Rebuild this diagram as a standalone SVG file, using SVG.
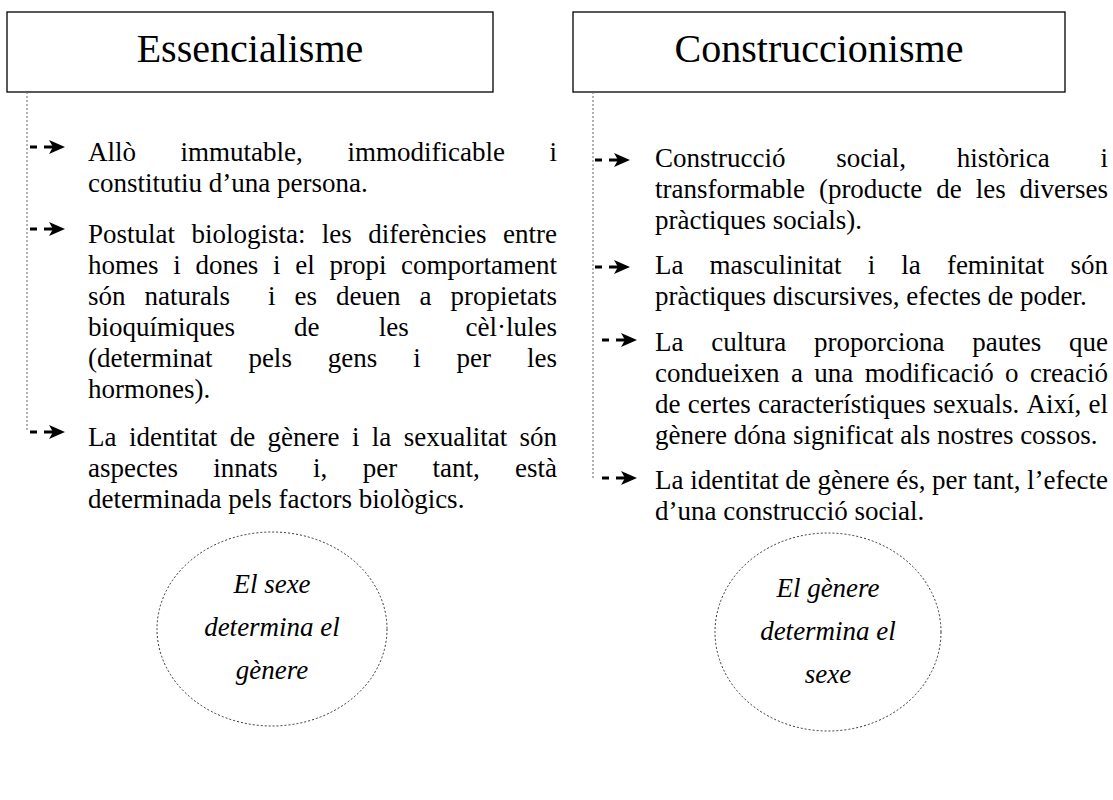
<svg xmlns="http://www.w3.org/2000/svg" width="1113" height="800" viewBox="0 0 1113 800">
<defs>
<style>
.box{fill:#fff;stroke:#000;stroke-width:1.3}
.title{font-family:"Liberation Serif","Times New Roman",serif;font-size:40px;fill:#000;text-anchor:middle}
.t{font-family:"Liberation Serif","Times New Roman",serif;font-size:27px;fill:#000}
.t .r{text-anchor:end}
.e{font-family:"Liberation Serif","Times New Roman",serif;font-size:27px;font-style:italic;fill:#000;text-anchor:middle}
.dot{fill:none;stroke:#666;stroke-width:1;stroke-dasharray:2 2}
.ell{fill:none;stroke:#333;stroke-width:1;stroke-dasharray:2 2}
</style>
<g id="arrow">
<rect x="-14" y="-1.5" width="7" height="3" fill="#000"/>
<rect x="0" y="-1.5" width="9" height="3" fill="#000"/>
<path d="M5,-7 L21,0 L5,7 L9,0 Z" fill="#000"/>
</g>
</defs>
<g id="essencialisme">
<rect class="box" x="7" y="12" width="486" height="80"/>
<text class="title" x="250" y="62">Essencialisme</text>
</g>
<g id="construccionisme">
<rect class="box" x="573" y="12" width="492" height="80"/>
<text class="title" x="819" y="62">Construccionisme</text>
</g>
<g id="connectors">
<path class="dot" d="M27,92 V432"/>
<path class="dot" d="M593,92 V478"/>
<use href="#arrow" x="44" y="147"/>
<use href="#arrow" x="44" y="229"/>
<use href="#arrow" x="44" y="432"/>
<use href="#arrow" x="609" y="160"/>
<use href="#arrow" x="609" y="267"/>
<use href="#arrow" x="616" y="340"/>
<use href="#arrow" x="616" y="478"/>
</g>
<g id="p-essencial-1" class="t">
<text x="88" y="161">Allò</text><text x="180.6" y="161">immutable,</text><text x="347.5" y="161">immodificable</text><text class="r" x="557" y="161">i</text>
<text x="88" y="192">constitutiu d’una persona.</text>
</g>
<g id="p-essencial-2" class="t">
<text x="88" y="243">Postulat</text><text x="191.4" y="243">biologista:</text><text x="321.8" y="243">les</text><text x="368.2" y="243">diferències</text><text class="r" x="557" y="243">entre</text>
<text x="88" y="274">homes</text><text x="173.2" y="274">i</text><text x="195.4" y="274">dones</text><text x="273.1" y="274">i</text><text x="295.2" y="274">el</text><text x="329.4" y="274">propi</text><text class="r" x="557" y="274">comportament</text>
<text x="88" y="305">són</text><text x="144.5" y="305">naturals</text><text x="268" y="305">i</text><text x="294.5" y="305">es</text><text x="336" y="305">deuen</text><text x="419.5" y="305">a</text><text class="r" x="557" y="305">propietats</text>
<text x="88" y="336">bioquímiques</text><text x="294.1" y="336">de</text><text x="378.7" y="336">les</text><text class="r" x="557" y="336">cèl·lules</text>
<text x="88" y="367">(determinat</text><text x="248.4" y="367">pels</text><text x="327.8" y="367">gens</text><text x="413.2" y="367">i</text><text x="456.6" y="367">per</text><text class="r" x="557" y="367">les</text>
<text x="88" y="398">hormones).</text>
</g>
<g id="p-essencial-3" class="t">
<text x="88" y="446">La</text><text x="128.9" y="446">identitat</text><text x="229.7" y="446">de</text><text x="267.6" y="446">gènere</text><text x="351.9" y="446">i</text><text x="371.8" y="446">la</text><text x="403.7" y="446">sexualitat</text><text class="r" x="557" y="446">són</text>
<text x="88" y="477">aspectes</text><text x="213.3" y="477">innats</text><text x="313.1" y="477">i,</text><text x="362.7" y="477">per</text><text x="432.5" y="477">tant,</text><text class="r" x="557" y="477">està</text>
<text x="88" y="508">determinada pels factors biològics.</text>
</g>
<g id="p-construc-1" class="t">
<text x="655" y="167">Construcció</text><text x="836.3" y="167">social,</text><text x="956.8" y="167">històrica</text><text class="r" x="1108" y="167">i</text>
<text x="655" y="198">transformable</text><text x="818.9" y="198">(producte</text><text x="936.3" y="198">de</text><text x="975.7" y="198">les</text><text class="r" x="1108" y="198">diverses</text>
<text x="655" y="229">pràctiques socials).</text>
</g>
<g id="p-construc-2" class="t">
<text x="655" y="274">La</text><text x="709.6" y="274">masculinitat</text><text x="867.7" y="274">i</text><text x="901.3" y="274">la</text><text x="946.9" y="274">feminitat</text><text class="r" x="1108" y="274">són</text>
<text x="655" y="305">pràctiques discursives, efectes de poder.</text>
</g>
<g id="p-construc-3" class="t">
<text x="655" y="351">La</text><text x="711.3" y="351">cultura</text><text x="814" y="351">proporciona</text><text x="972.3" y="351">pautes</text><text class="r" x="1108" y="351">que</text>
<text x="655" y="382">condueixen</text><text x="790.9" y="382">a</text><text x="814.3" y="382">una</text><text x="864.7" y="382">modificació</text><text x="1005.1" y="382">o</text><text class="r" x="1108" y="382">creació</text>
<text x="655" y="413">de</text><text x="687.7" y="413">certes</text><text x="757.9" y="413">característiques</text><text x="933" y="413">sexuals.</text><text x="1026.4" y="413">Així,</text><text class="r" x="1108" y="413">el</text>
<text x="655" y="444">gènere dóna significat als nostres cossos.</text>
</g>
<g id="p-construc-4" class="t">
<text x="655" y="489">La</text><text x="690.2" y="489">identitat</text><text x="785.3" y="489">de</text><text x="817.5" y="489">gènere</text><text x="896.2" y="489">és,</text><text x="932.1" y="489">per</text><text x="973.3" y="489">tant,</text><text class="r" x="1108" y="489">l’efecte</text>
<text x="655" y="520">d’una construcció social.</text>
</g>
<g id="ellipse-sexe">
<ellipse class="ell" cx="272" cy="629" rx="115" ry="97"/>
<text class="e" x="272" y="593">El sexe</text>
<text class="e" x="272" y="636">determina el</text>
<text class="e" x="272" y="679">gènere</text>
</g>
<g id="ellipse-genere">
<ellipse class="ell" cx="828" cy="632" rx="113" ry="99"/>
<text class="e" x="828" y="597">El gènere</text>
<text class="e" x="828" y="640">determina el</text>
<text class="e" x="828" y="683">sexe</text>
</g>
</svg>
